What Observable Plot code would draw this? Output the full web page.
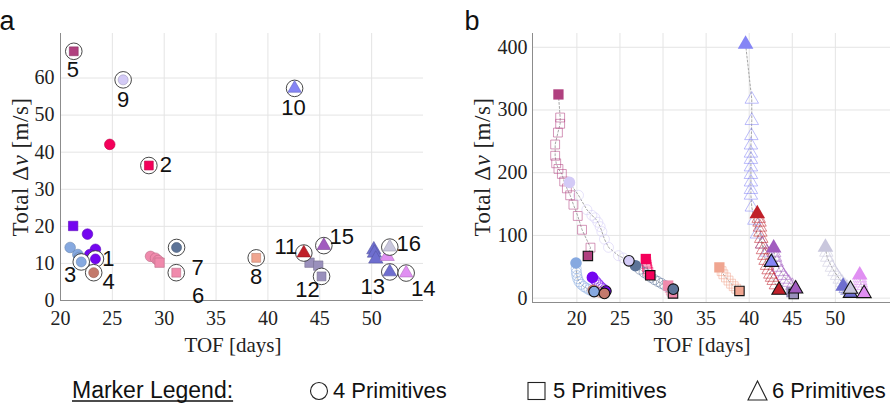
<!DOCTYPE html>
<html><head><meta charset="utf-8">
<script src="https://cdn.jsdelivr.net/npm/d3@7"></script>
<script src="https://cdn.jsdelivr.net/npm/@observablehq/plot@0.6"></script>
<style>
body{margin:0;background:#fff;}
#wrap{position:relative;width:890px;height:403px;overflow:hidden;background:#fff;}
.panel{position:absolute;top:0;}
#legend{position:absolute;left:0;top:360px;width:890px;height:43px;}
</style></head><body><div id="wrap"><div id="pa" class="panel" style="left:0"></div><div id="pb" class="panel" style="left:445px"></div><div id="legend"></div></div>
<script>
// ---------------- data ----------------
const solutionIds = [1,2,3,4,5,6,7,8,9,10,11,12,13,14,15,16];
const solutionColors = ["#7406f0","#f4005a","#86a9e0","#c47a6c","#b0407f","#f08aac","#5d7498","#f0a590",
                        "#d3caf6","#8585f5","#c0202a","#9a90bc","#6e6ecf","#e08ff2","#a15cbf","#c9c7dd"];
const solutionShapes = ["circle","square","circle","circle","square","square","circle","square",
                        "circle","triangle","triangle","square","triangle","triangle","triangle","triangle"];
// panel a: best (circled) solution of each case
const bestTOF = [23.37,28.52,22.0,23.2,21.28,31.16,31.19,38.87,26.04,42.57,43.46,45.17,51.75,53.33,45.39,51.75];
const bestDV  = [11.2,36.4,10.4,7.5,67.2,7.5,14.3,11.5,59.5,57.2,12.8,6.5,7.7,7.4,14.8,14.4];
// panel a: other candidates
const otherSol   = [2,1,1,3,1,1,3,3,3,6,6,6,6,12,12,13,13,13,14];
const otherShape = ["circle","square","circle","circle","circle","circle","circle","circle","square",
                    "circle","circle","circle","square","square","square","triangle","triangle","triangle","triangle"];
const otherTOF = [24.75,21.22,22.6,20.93,23.37,22.83,21.67,21.8,21.8,28.68,29.16,29.42,29.55,44.01,44.85,50.21,50.27,50.4,51.5];
const otherDV  = [42.1,20.1,17.9,14.3,13.8,12.4,12.4,11.6,10.8,11.9,11.4,10.8,10.2,10.2,9.4,13.7,12.8,11.2,11.9];
// panel b: continuation paths [TOF, total dv], start -> end
const path1  = [[21.8,33],[22.0,30],[22.2,27],[22.4,24],[22.6,21],[22.8,18],[23.0,15.5],[23.2,13.5],[23.37,11.2]];
const path2  = [[28.0,62.4],[28.05,58],[28.1,54],[28.15,50],[28.2,46],[28.3,42],[28.52,36.4]];
const path3  = [[19.9,56],[19.92,47],[19.95,41],[20.0,36],[20.1,31],[20.25,26],[20.5,22],[20.8,18.5],[21.1,16],[21.4,13.5],[21.7,11.5],[22.0,10.4]];
const path4  = [[21.9,12.5],[22.2,11],[22.5,9.8],[22.8,8.6],[23.2,7.5]];
const path5  = [[17.86,324.8],[18.06,288],[18.06,278],[17.8,264],[17.48,245],[17.48,227],[17.6,215],[17.86,206],[18.26,198],[18.53,186],[18.84,175],[19.22,164],[19.6,149],[20.1,131],[20.6,109],[21.58,80.5],[21.28,67.2]];
const path6  = [[30.6,20],[30.75,16],[30.9,12],[31.0,9.5],[31.16,7.5]];
const path7  = [[26.8,51.7],[27.3,46],[27.8,41],[28.2,37],[28.6,33],[29.0,29.5],[29.4,26.5],[29.8,23.5],[30.2,20.5],[30.6,18],[31.19,14.3]];
const path8  = [[36.54,49],[36.8,43],[37.0,38],[37.3,33],[37.6,28],[37.9,23],[38.2,19],[38.5,15],[38.87,11.5]];
const path9  = [[19.14,184.5],[20.19,164],[21.16,141],[21.74,132],[22.1,128],[22.44,121],[22.7,114],[22.9,106],[23.2,94],[23.67,81],[24.83,67.7],[25.4,64],[26.04,59.5]];
const path10 = [[39.58,405],[40.3,317],[40.3,283],[40.25,259],[40.2,244],[40.2,231],[40.2,221],[40.2,209],[40.2,197],[40.2,185],[40.2,173],[40.2,164],[40.3,145],[40.6,124],[40.9,102],[41.5,86],[42.07,73],[42.57,57.2]];
const path11 = [[40.94,134.4],[41.1,127],[41.2,121],[41.25,113],[41.3,105],[41.4,95],[41.5,86],[41.6,77],[41.76,68],[41.9,60],[42.07,52],[42.25,45],[42.45,38],[42.65,33],[42.84,28],[43.1,21],[43.46,12.8]];
const path12 = [[44.9,9.5],[45.17,6.5]];
const path13 = [[50.9,19],[51.2,15],[51.4,12],[51.75,7.7]];
const path14 = [[52.83,36.8],[52.85,32],[52.9,28],[52.95,24],[53.0,20],[53.1,15],[53.33,7.4]];
const path15 = [[42.84,80],[42.9,72],[43.0,65],[43.2,57],[43.4,49],[43.7,42],[44.0,36],[44.3,30],[44.6,25],[45.0,20],[45.39,14.8]];
const path16 = [[48.85,81],[48.95,73],[49.05,65],[49.3,57],[49.6,49],[49.9,42],[50.2,36],[50.5,30],[50.8,25],[51.1,20],[51.35,17],[51.75,14.4]];
const paths = [path1,path2,path3,path4,path5,path6,path7,path8,path9,path10,path11,path12,path13,path14,path15,path16];
// axes
const xTicksA = [20,25,30,35,40,45,50];
const yTicksA = [0,10,20,30,40,50,60];
const xTicksB = [20,25,30,35,40,45,50];
const yTicksB = [0,100,200,300,400];
const xLabel = "TOF [days]";
const legendItems = [["circle","4 Primitives"],["square","5 Primitives"],["triangle","6 Primitives"]];

// ---------------- layout / styles ----------------
const xDomainA = [20, 55], yDomainA = [0, 72];
const xDomainB = [14.85, 56.4], yDomainB = [-7, 422];
const serif = '"Liberation Serif","Times New Roman",serif';
const sans = '"Liberation Sans",Arial,Helvetica,sans-serif';
const gridColor = "#e4e4e4", axisColor = "#8c8c8c";
// label offsets (px) for the case numbers in panel a
const labelNudge = [[13,0],[17,-1],[-11,13],[15,9],[-1,19],[22,23],[21,20],[0,19],[0,20],[-1,20],[-18,-6],[-14,14],[-17,15],[17,16],[18,-9],[19,-3]];

const edge = c => d3.color(c).darker(0.7).formatHex();
const bestRows = solutionIds.map((id, i) => ({id, tof: bestTOF[i], dv: bestDV[i], shape: solutionShapes[i], color: solutionColors[i], edge: edge(solutionColors[i]), dx: labelNudge[i][0], dy: labelNudge[i][1]}));
const otherRows = otherSol.map((s, i) => ({tof: otherTOF[i], dv: otherDV[i], shape: otherShape[i], color: solutionColors[s-1], edge: edge(solutionColors[s-1])}));

const trajRows = [], midRows = [], startRows = [], endRows = [];
paths.forEach((p, k) => {
  p.forEach((pt, j) => {
    const row = {sol: k+1, tof: pt[0], dv: pt[1], shape: solutionShapes[k], color: solutionColors[k]};
    trajRows.push(row);
    if (j === 0) startRows.push(row);
    else if (j === p.length - 1) endRows.push(row);
    else midRows.push(row);
  });
});

function frameStyle() {
  return {fontFamily: serif, fontSize: "20px", color: "#222", background: "transparent", overflow: "visible"};
}

const plotA = Plot.plot({
  width: 445, height: 360,
  marginLeft: 60, marginRight: 22, marginTop: 33, marginBottom: 60,
  style: frameStyle(),
  x: {domain: xDomainA, ticks: xTicksA, label: null, tickSize: 0, tickPadding: 10},
  y: {domain: yDomainA, ticks: yTicksA, label: null, tickSize: 0, tickPadding: 6},
  marks: [
    Plot.gridX(xTicksA, {stroke: gridColor, strokeOpacity: 1}),
    Plot.gridY(yTicksA, {stroke: gridColor, strokeOpacity: 1}),
    Plot.ruleX([xDomainA[0]], {stroke: axisColor}),
    Plot.ruleY([yDomainA[0]], {stroke: axisColor}),
    Plot.dot(otherRows, {x: "tof", y: "dv", symbol: "shape", fill: "color", stroke: "edge", strokeWidth: 0.6, r: 5.3}),
    Plot.dot(bestRows, {x: "tof", y: "dv", r: 8.3, fill: "white", stroke: "#333", strokeWidth: 0.9}),
    Plot.dot(bestRows, {x: "tof", y: "dv", symbol: "shape", fill: "color", stroke: "edge", strokeWidth: 0.6, r: 5}),
    ...bestRows.map(r => Plot.text([r], {x: "tof", y: "dv", text: d => String(d.id), dx: r.dx, dy: r.dy, fontFamily: sans, fontSize: 22, fill: "#111"}))
  ]
});

const plotB = Plot.plot({
  width: 445, height: 360,
  marginLeft: 87, marginRight: 0, marginTop: 33, marginBottom: 58,
  style: frameStyle(),
  x: {domain: xDomainB, ticks: xTicksB, label: null, tickSize: 0, tickPadding: 8},
  y: {domain: yDomainB, ticks: yTicksB, label: null, tickSize: 0, tickPadding: 5},
  marks: [
    Plot.gridX(xTicksB, {stroke: gridColor, strokeOpacity: 1}),
    Plot.gridY(yTicksB, {stroke: gridColor, strokeOpacity: 1}),
    Plot.ruleX([xDomainB[0]], {stroke: axisColor}),
    Plot.ruleY([yDomainB[0]], {stroke: axisColor}),
    Plot.line(trajRows, {x: "tof", y: "dv", z: "sol", stroke: "#8f8f8f", strokeWidth: 0.8, strokeDasharray: "2,2"}),
    Plot.dot(midRows, {x: "tof", y: "dv", symbol: "shape", stroke: "color", fill: "none", strokeWidth: 0.9, strokeOpacity: 0.6, r: 5}),
    Plot.dot(startRows, {x: "tof", y: "dv", symbol: "shape", fill: "color", r: 5.8}),
    Plot.dot(endRows, {x: "tof", y: "dv", symbol: "shape", fill: "color", stroke: "#111", strokeWidth: 1.1, r: 5.3})
  ]
});

function decorate(svg, letter, letterX, yLabX, xLabX) {
  const s = d3.select(svg);
  s.append("text").attr("x", letterX).attr("y", 30).style("font-family", sans).style("font-size", "27px").attr("fill", "#111").text(letter);
  const t = s.append("text").attr("transform", `translate(${yLabX},167) rotate(-90)`).attr("text-anchor", "middle")
    .style("font-family", serif).style("font-size", "23px").style("letter-spacing", "0.5px").attr("fill", "#222");
  t.append("tspan").text("Total \u0394");
  t.append("tspan").attr("font-style", "italic").text("v");
  t.append("tspan").text(" [m/s]");
  s.append("text").attr("x", xLabX).attr("y", 352).attr("text-anchor", "middle")
    .style("font-family", serif).style("font-size", "21px").attr("fill", "#222").text(xLabel);
}
decorate(plotA, "a", 7, 28, 233);
decorate(plotB, "b", 27, 45, 257);
document.getElementById("pa").appendChild(plotA);
document.getElementById("pb").appendChild(plotB);

// legend
const lg = d3.select("#legend").append("svg").attr("width", 890).attr("height", 43);
const title = lg.append("text").attr("x", 72).attr("y", 37.5).style("font-family", sans).style("font-size", "23px").attr("fill", "#111").text("Marker Legend:");
const tw = title.node().getComputedTextLength();
lg.append("line").attr("x1", 72).attr("x2", 72 + tw).attr("y1", 41).attr("y2", 41).attr("stroke", "#111").attr("stroke-width", 1.4);
const iconX = [319, 536.5, 757.5], textX = [333, 553, 772];
legendItems.forEach(([shape, label], i) => {
  const cx = iconX[i], cy = 31;
  if (shape === "circle") lg.append("circle").attr("cx", cx).attr("cy", cy).attr("r", 8.5).attr("fill", "none").attr("stroke", "#222").attr("stroke-width", 1.1);
  else if (shape === "square") lg.append("rect").attr("x", cx - 8.5).attr("y", cy - 8.5).attr("width", 17).attr("height", 17).attr("fill", "none").attr("stroke", "#222").attr("stroke-width", 1.1);
  else lg.append("path").attr("d", `M${cx},${cy-10}L${cx+9.5},${cy+9}L${cx-9.5},${cy+9}Z`).attr("fill", "none").attr("stroke", "#222").attr("stroke-width", 1.1);
  lg.append("text").attr("x", textX[i]).attr("y", 37.5).style("font-family", sans).style("font-size", "22px").attr("fill", "#111").text(label);
});
</script></body></html>
